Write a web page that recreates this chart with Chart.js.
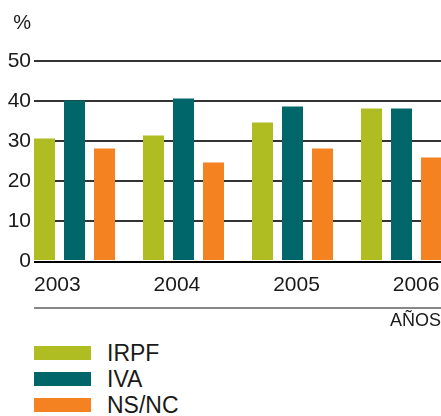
<!DOCTYPE html>
<html>
<head>
<meta charset="utf-8">
<script src="https://cdn.jsdelivr.net/npm/chart.js@4.4.1/dist/chart.umd.min.js"></script>
<style>
  html, body { margin: 0; padding: 0; background: #fff; overflow: hidden; }
  #wrap { position: relative; width: 441px; height: 416px; }
  #chart { position: absolute; left: 0; top: 0; }
  .leg { position: absolute; left: 34px; height: 14px; display: flex; align-items: center;
         font-family: 'Liberation Sans', Arial, sans-serif; font-size: 23px; line-height: 14px; color: #1a1a1a; white-space: nowrap; }
  .leg span.sw { display: inline-block; width: 57px; height: 14px; margin-right: 16px; }
</style>
</head>
<body>
<div id="wrap">
  <canvas id="chart" width="441" height="340"></canvas>
  <div id="legend"></div>
</div>
<script>
// Data
const years = [2003, 2004, 2005, 2006];
const irpf = [30.6, 31.4, 34.6, 38.1];
const iva = [40.1, 40.6, 38.6, 38.1];
const nsnc = [28.1, 24.6, 28.1, 25.9];
const seriesNames = ['IRPF', 'IVA', 'NS/NC'];
const seriesColors = ['#afbd22', '#00666a', '#f48221'];
const yTicks = [0, 10, 20, 30, 40, 50];

const FONT = "'Liberation Sans', Arial, sans-serif";
const INK = '#1a1a1a';

// Extra marks: % label, zero baseline and the grey rule above the axis title
const decorPlugin = {
    id: 'decor',
    afterDatasetsDraw(chart) {
        const { ctx, chartArea, scales } = chart;
        const y0 = scales.y.getPixelForValue(0);
        ctx.save();
        ctx.strokeStyle = '#000';
        ctx.lineWidth = 2;
        ctx.beginPath();
        ctx.moveTo(chartArea.left, y0 + 1);
        ctx.lineTo(chartArea.right, y0 + 1);
        ctx.stroke();

        ctx.strokeStyle = '#888';
        ctx.lineWidth = 2;
        ctx.beginPath();
        ctx.moveTo(chartArea.left, y0 + 47);
        ctx.lineTo(chartArea.right, y0 + 47);
        ctx.stroke();

        ctx.fillStyle = INK;
        ctx.font = '20px ' + FONT;
        ctx.textAlign = 'right';
        ctx.textBaseline = 'middle';
        ctx.fillText('%', 31, 23);
        ctx.restore();
    }
};

const yearTicks = s => { s.ticks = years.map(v => ({ value: v })); };
const noSidePad = s => { s.paddingLeft = 0; s.paddingRight = 0; };

const ctx = document.getElementById('chart').getContext('2d');
new Chart(ctx, {
    type: 'bar',
    data: {
        labels: years,
        datasets: [irpf, iva, nsnc].map((vals, i) => ({
            label: seriesNames[i],
            data: vals,
            backgroundColor: seriesColors[i],
            borderWidth: 0,
            categoryPercentage: 90 / 109,
            barPercentage: 0.7
        }))
    },
    options: {
        responsive: false,
        animation: false,
        devicePixelRatio: 1,
        layout: { padding: { top: 61, right: 0, bottom: 0, left: 0 } },
        plugins: { legend: { display: false }, tooltip: { enabled: false } },
        scales: {
            x: {
                type: 'linear',
                display: false,
                offset: false,
                bounds: 'data',
                min: years[0] - 40.5 / 109,
                max: years[0] - 40.5 / 109 + 407 / 109,
                afterBuildTicks: yearTicks,
                afterFit: noSidePad
            },
            // label axis: year captions and the AÑOS title
            x2: {
                type: 'linear',
                position: 'bottom',
                offset: false,
                bounds: 'data',
                min: years[0] - 0.1953,
                max: years[0] - 0.1953 + 407 / 119.57,
                afterBuildTicks: yearTicks,
                grid: { display: false, drawTicks: false, offset: false },
                border: { display: false },
                ticks: {
                    maxRotation: 0, autoSkip: false,
                    padding: 12, color: INK, font: { family: FONT, size: 21 },
                    callback: v => String(v)
                },
                title: {
                    display: true, text: 'AÑOS', align: 'end', color: INK,
                    font: { family: FONT, size: 18 }, padding: { top: 0, bottom: 8 }
                },
                afterFit: s => { s.height = 79; noSidePad(s); }
            },
            y: {
                min: 0,
                max: 50,
                afterBuildTicks: s => { s.ticks = yTicks.map(v => ({ value: v })); },
                afterFit: s => { s.width = 34; s.paddingTop = 0; s.paddingBottom = 0; },
                border: { display: false },
                grid: {
                    drawTicks: false,
                    lineWidth: 2,
                    color: c => c.tick && c.tick.value === 0 ? 'rgba(0,0,0,0)' : '#333'
                },
                ticks: { padding: 3, color: INK, font: { family: FONT, size: 21 } }
            }
        }
    },
    plugins: [decorPlugin]
});

// Legend rows below the chart
const legend = document.getElementById('legend');
seriesNames.forEach((name, i) => {
    const row = document.createElement('div');
    row.className = 'leg';
    row.style.top = (346 + i * 26) + 'px';
    row.innerHTML = `<span class="sw" style="background:${seriesColors[i]}"></span>${name}`;
    legend.appendChild(row);
});
</script>
</body>
</html>
